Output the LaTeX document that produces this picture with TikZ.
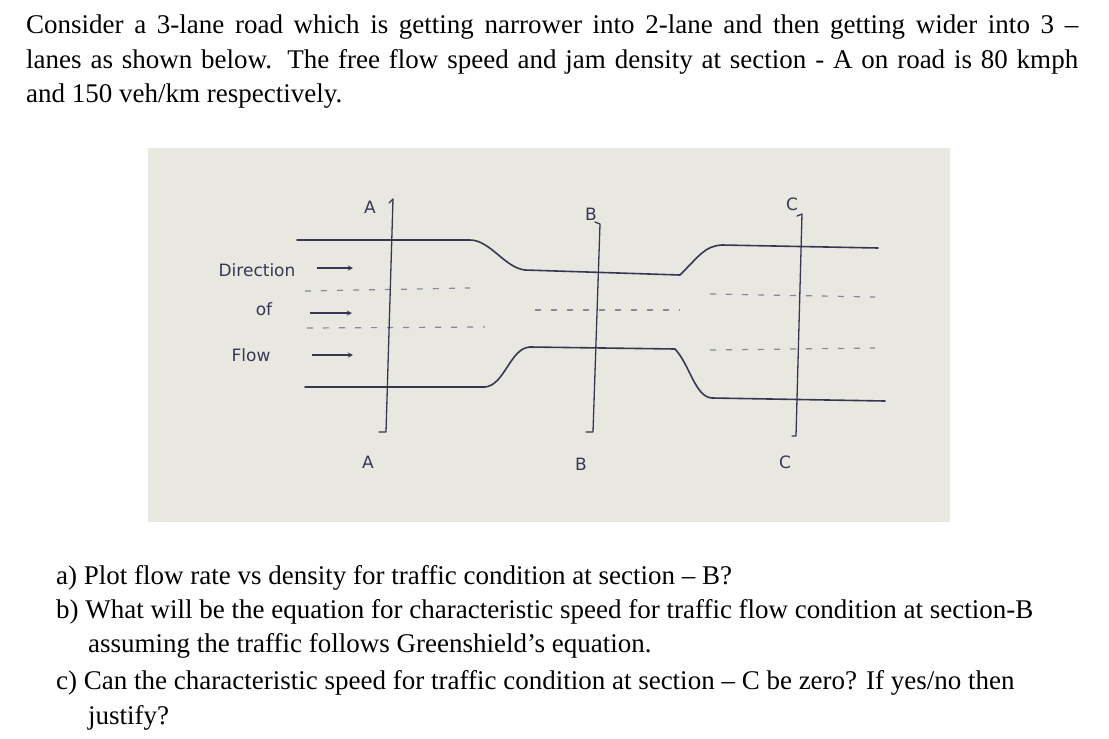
\documentclass[tikz,border=0pt]{standalone}
\usepackage{fontspec}
\setmainfont{Liberation Serif}
\newfontfamily\hand{DejaVu Sans}
\begin{document}
\begin{tikzpicture}[x=1pt,y=-1pt,
  txt/.style={anchor=west,inner sep=0pt,font=\fontsize{27}{30}\selectfont},
  ink/.style={draw=inkc,line width=1.6pt,line cap=round,line join=round},
  lane/.style={draw=inkc!60,line width=1.2pt,dash pattern=on 6pt off 10pt},
  lbl/.style={font=\hand\fontsize{17}{18}\selectfont,text=inkc,inner sep=0pt}]
\definecolor{inkc}{RGB}{55,55,85}
\definecolor{paper}{RGB}{232,232,224}
\useasboundingbox (0,0) rectangle (1109,739);
\fill[white] (0,0) rectangle (1109,739);
\node[txt] (t1) at (26,27) {\hbox to 1052pt{Consider a 3-lane road which is getting narrower into 2-lane and then getting wider into 3 –}};
\node[txt] (t2) at (26,62) {\hbox to 1052pt{lanes as shown below. The free flow speed and jam density at section - A on road is 80 kmph}};
\node[txt] (t3) at (26,96) {and 150 veh/km respectively.};
% sketch
\fill[paper] (148,148) rectangle (950,522);
\draw[ink] (297,240) -- (470,240) .. controls (490,240) and (505,268) .. (525,270) -- (680,275) .. controls (700,255) and (705,246) .. (722,245) -- (878,248);
\draw[ink] (305,387) -- (485,387) .. controls (505,385) and (510,348) .. (530,347) -- (675,349) .. controls (690,365) and (695,397) .. (712,398) -- (885,401);
\draw[lane] (305,291) -- (470,288);
\draw[lane] (307,328) -- (485,327);
\draw[lane] (535,310) -- (680,310);
\draw[lane] (710,294) -- (875,297);
\draw[lane] (710,350) -- (875,348);
% sections
\draw[ink,line width=1.3pt] (389,203) -- (393,199) -- (386,432) -- (379,432);
\draw[ink,line width=1.3pt] (595,222) -- (600,224) -- (593,432) -- (586,432);
\draw[ink,line width=1.3pt] (797,216) -- (802,214) -- (796,436) -- (792,436);
\node[lbl] (a1) at (370,207) {A};
\node[lbl] (a2) at (368,462) {A};
\node[lbl] (b1) at (591,214) {B};
\node[lbl] (b2) at (581,464) {B};
\node[lbl] (c1) at (792,204) {C};
\node[lbl] (c2) at (785,462) {C};
\node[lbl] (d1) at (257,270) {Direction};
\node[lbl] (d2) at (264,309) {of};
\node[lbl] (d3) at (251,355) {Flow};
\coordinate (e1) at (353,268); \coordinate (s1) at (317,268);
\coordinate (e2) at (352,313); \coordinate (s2) at (310,313);
\coordinate (e3) at (353,355); \coordinate (s3) at (312,355);
\foreach \i in {1,2,3} \draw[inkc,line width=1.3pt,-stealth] (s\i) -- (e\i);
% questions
\node[txt] (q1) at (56,578) {a) Plot flow rate vs density for traffic condition at section – B?};
\node[txt] (q2) at (56,612) {b) What will be the equation for characteristic speed for traffic flow condition at section-B};
\node[txt] (q3) at (88,646) {assuming the traffic follows Greenshield’s equation.};
\node[txt] (q4) at (56,683) {c) Can the characteristic speed for traffic condition at section – C be zero? If yes/no then};
\node[txt] (q5) at (88,718) {justify?};
\end{tikzpicture}
\end{document}
